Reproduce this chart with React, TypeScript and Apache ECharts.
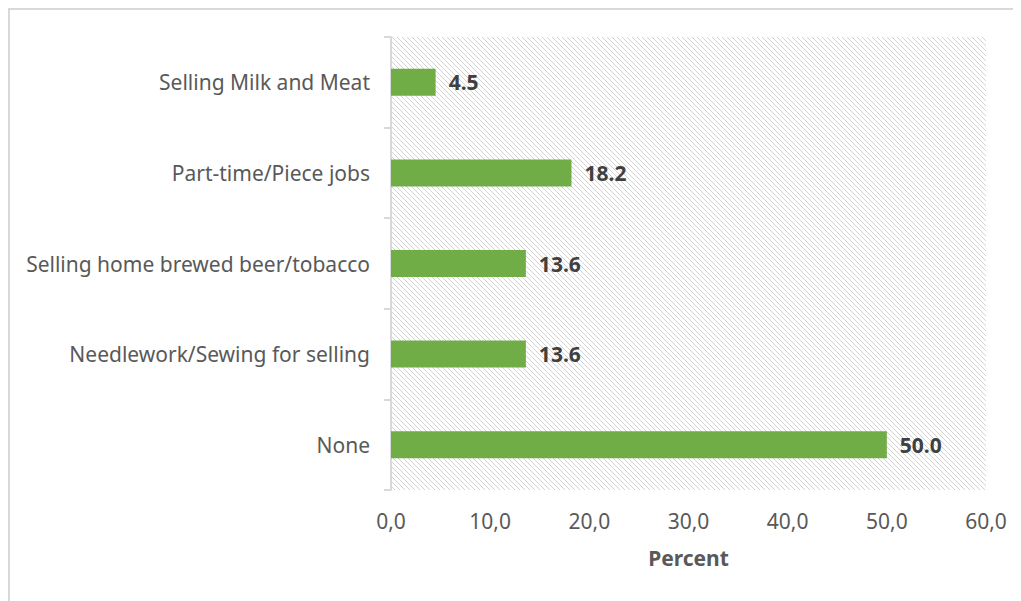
import React, { useEffect, useRef } from "react";
import * as echarts from "echarts";

const categories = [
  "None",
  "Needlework/Sewing for selling",
  "Selling home brewed beer/tobacco",
  "Part-time/Piece jobs",
  "Selling Milk and Meat",
];
const values = [50.0, 13.6, 13.6, 18.2, 4.5];
const xMin = 0;
const xMax = 60;
const xInterval = 10;
const axisName = "Percent";

function makeHatch(): HTMLCanvasElement {
  const s = 5;
  const c = document.createElement("canvas");
  c.width = s;
  c.height = s;
  const ctx = c.getContext("2d")!;
  ctx.fillStyle = "#ffffff";
  ctx.fillRect(0, 0, s, s);
  ctx.strokeStyle = "#d2d2d2";
  ctx.lineWidth = 1;
  ctx.beginPath();
  ctx.moveTo(-1, -1);
  ctx.lineTo(s + 1, s + 1);
  ctx.moveTo(-1, s - 1);
  ctx.lineTo(1, s + 1);
  ctx.moveTo(s - 1, -1);
  ctx.lineTo(s + 1, 1);
  ctx.stroke();
  return c;
}

export default function App() {
  const ref = useRef<HTMLDivElement>(null);
  useEffect(() => {
    if (!ref.current) return;
    const chart = echarts.init(ref.current, null, { renderer: "svg" });
    const hatch = makeHatch();
    const font = "'Noto Sans', sans-serif";
    chart.setOption({
      animation: false,
      grid: {
        show: true,
        left: 381,
        right: 35,
        top: 27,
        bottom: 111,
        borderWidth: 0,
        backgroundColor: { image: hatch, repeat: "repeat" },
        containLabel: false,
      },
      xAxis: {
        type: "value",
        min: xMin,
        max: xMax,
        interval: xInterval,
        axisLine: { show: false },
        axisTick: { show: false },
        splitLine: { show: false },
        axisLabel: {
          color: "#595959",
          fontSize: 21,
          fontFamily: font,
          margin: 20,
          formatter: (v: number) => v.toFixed(1).replace(".", ","),
        },
        name: axisName,
        nameLocation: "middle",
        nameGap: 57,
        nameTextStyle: {
          color: "#595959",
          fontSize: 21,
          fontWeight: "bold",
          fontFamily: font,
        },
      },
      yAxis: {
        type: "category",
        data: categories,
        axisLine: { show: true, lineStyle: { color: "#d9d9d9", width: 2 } },
        axisTick: { show: true, length: 7, lineStyle: { color: "#d9d9d9", width: 2 } },
        axisLabel: {
          color: "#595959",
          fontSize: 21,
          fontFamily: font,
          margin: 21,
        },
      },
      series: [
        {
          type: "bar",
          data: values,
          barWidth: 27,
          itemStyle: { color: "#70ad47" },
          label: {
            show: true,
            position: "right",
            distance: 13,
            color: "#404040",
            fontSize: 21,
            fontWeight: "bold",
            fontFamily: font,
            formatter: (p: any) => Number(p.value).toFixed(1),
          },
        },
      ],
    });
    return () => chart.dispose();
  }, []);
  return (
    <div
      style={{
        width: 1013,
        height: 593,
        borderTop: "2px solid #d9d9d9",
        borderLeft: "2px solid #d9d9d9",
        boxSizing: "border-box",
        overflow: "hidden",
        background: "#fff",
      }}
    >
      <div ref={ref} style={{ width: 1011, height: 591 }} />
    </div>
  );
}
